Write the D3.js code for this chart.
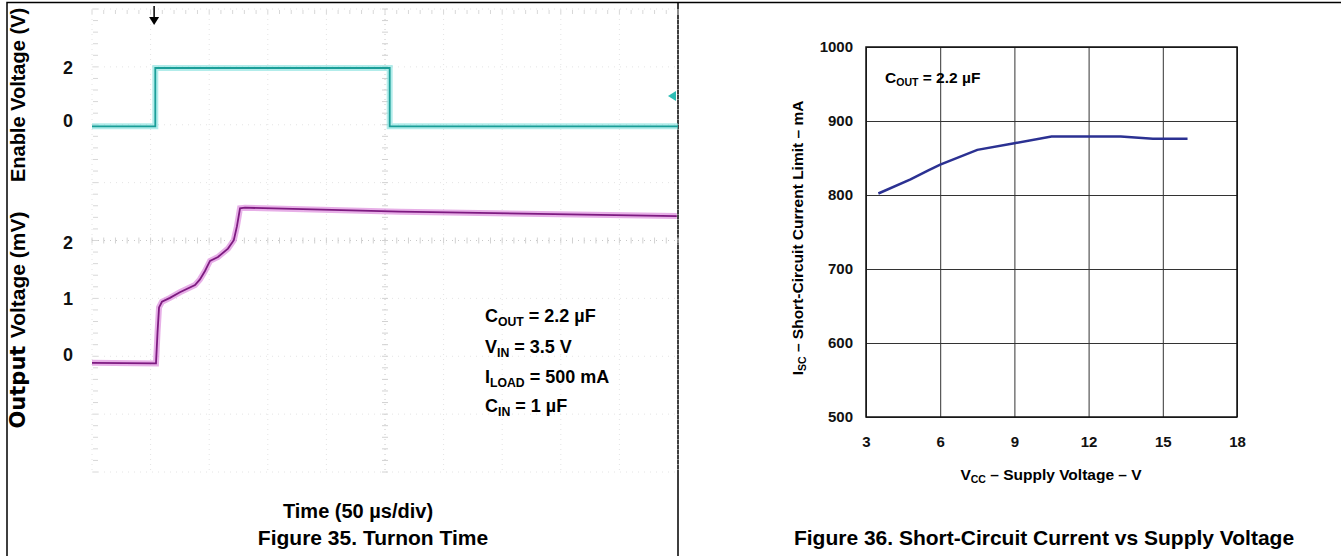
<!DOCTYPE html>
<html>
<head>
<meta charset="utf-8">
<script src="https://cdn.jsdelivr.net/npm/d3@7"></script>
<style>
  body { margin: 0; background: #fff; }
  text { font-family: "Liberation Sans", Arial, sans-serif; font-weight: bold; }
</style>
</head>
<body>
<svg width="1341" height="556"></svg>
<script>
// Figure 35 - scope traces (time in µs, 50 µs/div)
const enableTime = [0, 54, 54, 254, 254, 500];
const enableVolts = [-0.2, -0.2, 2.0, 2.0, -0.2, -0.2];
const outTime = [0, 54.6, 55.9, 57.2, 59.7, 66.5, 75, 87.9, 92.1, 96.4, 100.7, 107.5, 116, 121, 123.7, 126.3, 130.5, 262.8, 499];
const outMilliVolts = [-0.14, -0.15, 0.4, 0.85, 0.95, 1.02, 1.12, 1.25, 1.35, 1.5, 1.68, 1.75, 1.9, 2.05, 2.3, 2.62, 2.63, 2.56, 2.48];
const enableTicks = [0, 2];
const outTicks = [0, 1, 2];

// Figure 36 - short-circuit current vs supply voltage
const vcc = [3.5, 4.8, 5.5, 6, 7.5, 9, 10.5, 12, 13.3, 14.6, 16];
const isc = [802, 821, 833, 841, 861, 870, 879, 879, 879, 876, 876];
const vccTicks = [3, 6, 9, 12, 15, 18];
const iscTicks = [500, 600, 700, 800, 900, 1000];

const svg = d3.select("svg");

// frame
svg.append("path")
    .attr("d", "M7,556V2.5H1341M678,2.5V556")
    .attr("fill", "none").attr("stroke", "#000").attr("stroke-width", 1.5);

// helper for text with a subscript part
function subText(g, x, y, main, sub, rest, size, anchor) {
  const t = g.append("text").attr("x", x).attr("y", y)
      .attr("font-size", size).attr("text-anchor", anchor || "start");
  t.append("tspan").text(main);
  t.append("tspan").attr("font-size", size * 0.68).attr("dy", size * 0.22).text(sub);
  t.append("tspan").attr("dy", -size * 0.22).text(rest);
  return t;
}

// ---------- left: scope ----------
const x = d3.scaleLinear().domain([0, 500]).range([92, 678]);
const yEn = d3.scaleLinear().domain([0, 2]).range([121, 68]);
const yOut = d3.scaleLinear().domain([0, 2]).range([355, 243]);
const gridY = d3.scaleLinear().domain([0, 8]).range([9, 472]);

const scope = svg.append("g");
d3.range(0, 11).forEach(i => {
  scope.append("line")
      .attr("x1", x(i * 50)).attr("x2", x(i * 50)).attr("y1", 9).attr("y2", 472)
      .attr("stroke", i == 5 ? "#c8c8c8" : "#e4e4e4").attr("stroke-dasharray", "1,4");
});
d3.range(0, 9).forEach(i => {
  scope.append("line")
      .attr("x1", 92).attr("x2", 678).attr("y1", gridY(i)).attr("y2", gridY(i))
      .attr("stroke", i == 4 ? "#c8c8c8" : "#e4e4e4").attr("stroke-dasharray", "1,5");
});
// minor ticks on centre axes and edges
d3.range(0, 41).forEach(i => {
  const yy = gridY(i / 5);
  scope.append("line").attr("x1", x(250) - 3).attr("x2", x(250) + 3)
      .attr("y1", yy).attr("y2", yy).attr("stroke", "#d2d2d2");
  scope.append("line").attr("x1", 93).attr("x2", 98)
      .attr("y1", yy).attr("y2", yy).attr("stroke", "#d8d8d8");
});
d3.range(0, 51).forEach(i => {
  scope.append("line").attr("x1", x(i * 10)).attr("x2", x(i * 10))
      .attr("y1", gridY(4) - 3).attr("y2", gridY(4) + 3).attr("stroke", "#d2d2d2");
  scope.append("line").attr("x1", x(i * 10)).attr("x2", x(i * 10))
      .attr("y1", 10).attr("y2", 14).attr("stroke", "#d8d8d8");
});

const enLine = d3.line().x((d, i) => x(enableTime[i])).y(d => yEn(d));
const outLine = d3.line().x((d, i) => x(outTime[i])).y(d => yOut(d));

scope.append("path").datum(enableVolts).attr("d", enLine)
    .attr("fill", "none").attr("stroke", "#7fe0dc").attr("stroke-width", 6).attr("opacity", 0.6);
scope.append("path").datum(enableVolts).attr("d", enLine)
    .attr("fill", "none").attr("stroke", "#1a9e98").attr("stroke-width", 1.8);
scope.append("path").datum(outMilliVolts).attr("d", outLine)
    .attr("fill", "none").attr("stroke", "#d77ad7").attr("stroke-width", 6).attr("opacity", 0.6);
scope.append("path").datum(outMilliVolts).attr("d", outLine)
    .attr("fill", "none").attr("stroke", "#7d1a80").attr("stroke-width", 1.8);

// trigger marker and channel marker
scope.append("line").attr("x1", x(53)).attr("x2", x(53)).attr("y1", 6).attr("y2", 19)
    .attr("stroke", "#000").attr("stroke-width", 1.5);
scope.append("path").attr("d", `M${x(53) - 5},17L${x(53) + 5},17L${x(53)},25Z`).attr("fill", "#000");
scope.append("path").attr("d", "M668,96L676,91L676,101Z").attr("fill", "#2bbdb5");

// axes labels
svg.append("g").attr("transform", "translate(73,0)")
    .call(d3.axisLeft(yEn).tickValues(enableTicks).tickSize(0).tickPadding(0).tickFormat(d3.format("d")))
    .call(g => g.select(".domain").remove())
    .selectAll("text").attr("font-size", 18).attr("font-family", null).attr("fill", "#111");
svg.append("g").attr("transform", "translate(73,0)")
    .call(d3.axisLeft(yOut).tickValues(outTicks).tickSize(0).tickPadding(0).tickFormat(d3.format("d")))
    .call(g => g.select(".domain").remove())
    .selectAll("text").attr("font-size", 18).attr("font-family", null).attr("fill", "#111");

svg.append("text").attr("transform", "translate(25,95) rotate(-90)")
    .attr("text-anchor", "middle").attr("font-size", 20).text("Enable Voltage (V)");
const outTitle = svg.append("text").attr("transform", "translate(25,320) rotate(-90)")
    .attr("text-anchor", "middle").attr("font-size", 21);
outTitle.append("tspan").attr("font-family", "'DejaVu Sans'").text("Output ");
outTitle.append("tspan").text("Voltage (mV)");

const notes = svg.append("g");
subText(notes, 485, 322, "C", "OUT", " = 2.2 µF", 18);
subText(notes, 485, 353, "V", "IN", " = 3.5 V", 18);
subText(notes, 485, 383, "I", "LOAD", " = 500 mA", 18);
subText(notes, 485, 412, "C", "IN", " = 1 µF", 18);

svg.append("text").attr("x", 358).attr("y", 518).attr("text-anchor", "middle")
    .attr("font-size", 20).text("Time (50 µs/div)");
svg.append("text").attr("x", 373).attr("y", 545).attr("text-anchor", "middle")
    .attr("font-size", 21).text("Figure 35. Turnon Time");

// ---------- right: Isc vs Vcc ----------
const x2 = d3.scaleLinear().domain([3, 18]).range([866, 1237]);
const y2 = d3.scaleLinear().domain([500, 1000]).range([417, 47]);

const plot = svg.append("g");
plot.append("g").attr("transform", "translate(0,417)")
    .call(d3.axisBottom(x2).tickValues(vccTicks).tickSize(-370).tickPadding(19).tickFormat(d3.format("d")))
    .call(g => g.select(".domain").remove())
    .call(g => g.selectAll("line").attr("stroke", "#333"))
    .selectAll("text").attr("font-size", 15).attr("font-family", null).attr("fill", "#111");
plot.append("g").attr("transform", "translate(866,0)")
    .call(d3.axisLeft(y2).tickValues(iscTicks).tickSize(-371).tickPadding(13).tickFormat(d3.format("d")))
    .call(g => g.select(".domain").remove())
    .call(g => g.selectAll("line").attr("stroke", "#333"))
    .selectAll("text").attr("font-size", 15).attr("font-family", null).attr("fill", "#111");
plot.append("rect").attr("x", 866).attr("y", 47).attr("width", 371).attr("height", 370)
    .attr("fill", "none").attr("stroke", "#111").attr("stroke-width", 1.5);

const curve = d3.line().x((d, i) => x2(vcc[i])).y(d => y2(d));
plot.append("path").datum(isc).attr("d", curve)
    .attr("fill", "none").attr("stroke", "#2b3192").attr("stroke-width", 2.5);

subText(svg, 885, 83, "C", "OUT", " = 2.2 µF", 15.5);

const yt = svg.append("g").attr("transform", "translate(803,238) rotate(-90)");
subText(yt, 0, 0, "I", "SC", " – Short-Circuit Current Limit – mA", 15.5, "middle");
subText(svg, 1051, 480, "V", "CC", " – Supply Voltage – V", 15.5, "middle");

svg.append("text").attr("x", 1044).attr("y", 545).attr("text-anchor", "middle")
    .attr("font-size", 21).text("Figure 36. Short-Circuit Current vs Supply Voltage");
</script>
</body>
</html>
